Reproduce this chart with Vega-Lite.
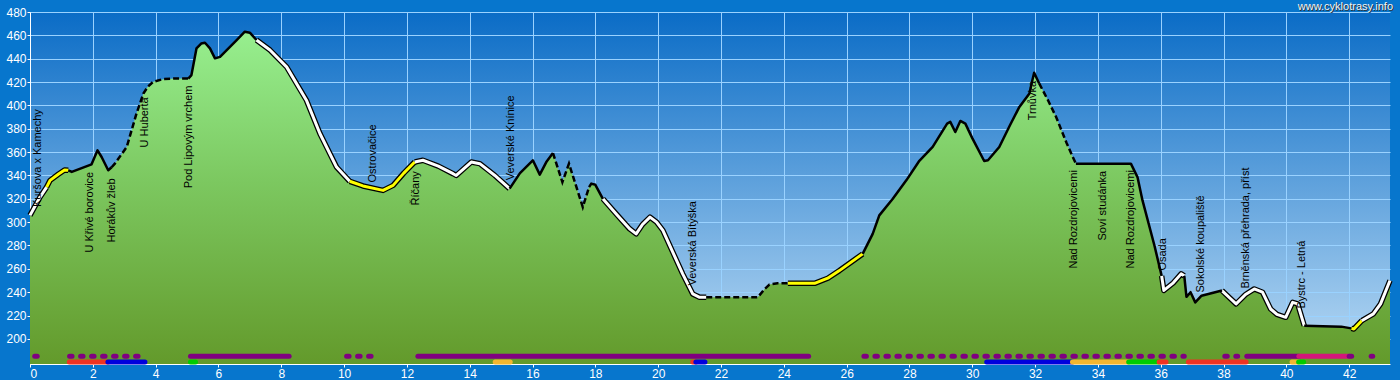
{
  "$schema": "https://vega.github.io/schema/vega-lite/v6.json",
  "width": 1360,
  "height": 352,
  "autosize": {"type": "none"},
  "padding": {"left": 30, "top": 12, "right": 10, "bottom": 16},
  "background": "#0776cd",
  "config": {
    "view": {"stroke": null, "fill": {"gradient": "linear", "x1": 0, "y1": 0, "x2": 0, "y2": 1, "stops": [{"offset": 0, "color": "#0a6cc6"}, {"offset": 1, "color": "#b9daf4"}]}},
    "axis": {"domainColor": "#ffffff", "domainWidth": 1, "tickColor": "#ffffff", "tickSize": 3, "labelColor": "#ffffff", "labelFont": "Liberation Sans", "labelFontSize": 12, "gridColor": "#9ad2ff", "gridWidth": 1, "gridOpacity": 1, "labelOverlap": false, "labelPadding": 1, "grid": true, "title": null},
    "text": {"font": "Liberation Sans"}
  },
  "datasets": {
    "profile": [
      {"km": 0, "ele": 305.8, "seg": "S1", "s": "white"},
      {"km": 0.32, "ele": 321.5, "seg": "S1", "s": "white"},
      {"km": 0.53, "ele": 330, "seg": "S1", "s": "white"},
      {"km": 0.53, "ele": 330, "seg": "S2", "s": "yellow"},
      {"km": 0.64, "ele": 335.8, "seg": "S2", "s": "yellow"},
      {"km": 0.9, "ele": 341, "seg": "S2", "s": "yellow"},
      {"km": 1.1, "ele": 344.6, "seg": "S2", "s": "yellow"},
      {"km": 1.22, "ele": 344.4, "seg": "S2", "s": "yellow"},
      {"km": 1.22, "ele": 344.4, "seg": "S3", "s": "black"},
      {"km": 1.33, "ele": 343, "seg": "S3", "s": "black"},
      {"km": 1.96, "ele": 349.5, "seg": "S3", "s": "black"},
      {"km": 2.15, "ele": 361.5, "seg": "S3", "s": "black"},
      {"km": 2.28, "ele": 355.8, "seg": "S3", "s": "black"},
      {"km": 2.49, "ele": 344.4, "seg": "S3", "s": "black"},
      {"km": 2.6, "ele": 347, "seg": "S3", "s": "black"},
      {"km": 2.6, "ele": 347, "seg": "S4", "s": "dashed"},
      {"km": 2.7, "ele": 350.1, "seg": "S4", "s": "dashed"},
      {"km": 3.08, "ele": 364.4, "seg": "S4", "s": "dashed"},
      {"km": 3.39, "ele": 393, "seg": "S4", "s": "dashed"},
      {"km": 3.61, "ele": 410.2, "seg": "S4", "s": "dashed"},
      {"km": 3.75, "ele": 416, "seg": "S4", "s": "dashed"},
      {"km": 3.92, "ele": 420.2, "seg": "S4", "s": "dashed"},
      {"km": 4.24, "ele": 422.5, "seg": "S4", "s": "dashed"},
      {"km": 4.6, "ele": 423, "seg": "S4", "s": "dashed"},
      {"km": 5.04, "ele": 423, "seg": "S4", "s": "dashed"},
      {"km": 5.04, "ele": 423, "seg": "S5", "s": "black"},
      {"km": 5.14, "ele": 426, "seg": "S5", "s": "black"},
      {"km": 5.3, "ele": 448.8, "seg": "S5", "s": "black"},
      {"km": 5.45, "ele": 453, "seg": "S5", "s": "black"},
      {"km": 5.57, "ele": 453.7, "seg": "S5", "s": "black"},
      {"km": 5.73, "ele": 448.8, "seg": "S5", "s": "black"},
      {"km": 5.89, "ele": 440.3, "seg": "S5", "s": "black"},
      {"km": 6.05, "ele": 441.6, "seg": "S5", "s": "black"},
      {"km": 6.58, "ele": 456, "seg": "S5", "s": "black"},
      {"km": 6.84, "ele": 463.1, "seg": "S5", "s": "black"},
      {"km": 7.0, "ele": 462.3, "seg": "S5", "s": "black"},
      {"km": 7.21, "ele": 456, "seg": "S5", "s": "black"},
      {"km": 7.21, "ele": 456, "seg": "S6", "s": "white"},
      {"km": 7.64, "ele": 447.4, "seg": "S6", "s": "white"},
      {"km": 8.17, "ele": 433, "seg": "S6", "s": "white"},
      {"km": 8.8, "ele": 404.5, "seg": "S6", "s": "white"},
      {"km": 9.23, "ele": 375.9, "seg": "S6", "s": "white"},
      {"km": 9.76, "ele": 347.2, "seg": "S6", "s": "white"},
      {"km": 10.18, "ele": 335, "seg": "S6", "s": "white"},
      {"km": 10.18, "ele": 335, "seg": "S7", "s": "yellow"},
      {"km": 10.6, "ele": 331, "seg": "S7", "s": "yellow"},
      {"km": 11.24, "ele": 327.2, "seg": "S7", "s": "yellow"},
      {"km": 11.56, "ele": 331.5, "seg": "S7", "s": "yellow"},
      {"km": 11.9, "ele": 342, "seg": "S7", "s": "yellow"},
      {"km": 12.25, "ele": 351.5, "seg": "S7", "s": "yellow"},
      {"km": 12.25, "ele": 351.5, "seg": "S8", "s": "white"},
      {"km": 12.51, "ele": 353, "seg": "S8", "s": "white"},
      {"km": 13.0, "ele": 348, "seg": "S8", "s": "white"},
      {"km": 13.47, "ele": 341.5, "seg": "S8", "s": "white"},
      {"km": 13.57, "ele": 340, "seg": "S8", "s": "white"},
      {"km": 14.05, "ele": 351.5, "seg": "S8", "s": "white"},
      {"km": 14.32, "ele": 350.1, "seg": "S8", "s": "white"},
      {"km": 14.8, "ele": 340, "seg": "S8", "s": "white"},
      {"km": 15.27, "ele": 328.7, "seg": "S8", "s": "white"},
      {"km": 15.27, "ele": 328.7, "seg": "S9", "s": "black"},
      {"km": 15.6, "ele": 342, "seg": "S9", "s": "black"},
      {"km": 16.01, "ele": 353, "seg": "S9", "s": "black"},
      {"km": 16.23, "ele": 340.7, "seg": "S9", "s": "black"},
      {"km": 16.45, "ele": 352, "seg": "S9", "s": "black"},
      {"km": 16.65, "ele": 359.2, "seg": "S9", "s": "black"},
      {"km": 16.65, "ele": 359.2, "seg": "S10", "s": "dashed"},
      {"km": 16.95, "ele": 334.3, "seg": "S10", "s": "dashed"},
      {"km": 17.16, "ele": 350.1, "seg": "S10", "s": "dashed"},
      {"km": 17.6, "ele": 312.9, "seg": "S10", "s": "dashed"},
      {"km": 17.8, "ele": 330, "seg": "S10", "s": "dashed"},
      {"km": 17.8, "ele": 330, "seg": "S11", "s": "black"},
      {"km": 17.87, "ele": 333, "seg": "S11", "s": "black"},
      {"km": 18.0, "ele": 332, "seg": "S11", "s": "black"},
      {"km": 18.24, "ele": 320, "seg": "S11", "s": "black"},
      {"km": 18.24, "ele": 320, "seg": "S12", "s": "white"},
      {"km": 18.7, "ele": 306, "seg": "S12", "s": "white"},
      {"km": 19.09, "ele": 294.3, "seg": "S12", "s": "white"},
      {"km": 19.3, "ele": 290, "seg": "S12", "s": "white"},
      {"km": 19.5, "ele": 298, "seg": "S12", "s": "white"},
      {"km": 19.74, "ele": 304.3, "seg": "S12", "s": "white"},
      {"km": 19.95, "ele": 300, "seg": "S12", "s": "white"},
      {"km": 20.15, "ele": 292.9, "seg": "S12", "s": "white"},
      {"km": 20.78, "ele": 255.7, "seg": "S12", "s": "white"},
      {"km": 21.1, "ele": 238.5, "seg": "S12", "s": "white"},
      {"km": 21.32, "ele": 235.6, "seg": "S12", "s": "white"},
      {"km": 21.53, "ele": 235.6, "seg": "S12", "s": "white"},
      {"km": 21.53, "ele": 235.6, "seg": "S13", "s": "dashed"},
      {"km": 23.17, "ele": 235.6, "seg": "S13", "s": "dashed"},
      {"km": 23.4, "ele": 243, "seg": "S13", "s": "dashed"},
      {"km": 23.54, "ele": 246.5, "seg": "S13", "s": "dashed"},
      {"km": 23.8, "ele": 247.6, "seg": "S13", "s": "dashed"},
      {"km": 24.13, "ele": 247.6, "seg": "S13", "s": "dashed"},
      {"km": 24.13, "ele": 247.6, "seg": "S14", "s": "yellow"},
      {"km": 24.98, "ele": 247.6, "seg": "S14", "s": "yellow"},
      {"km": 25.4, "ele": 252, "seg": "S14", "s": "yellow"},
      {"km": 25.77, "ele": 258.5, "seg": "S14", "s": "yellow"},
      {"km": 26.51, "ele": 272.8, "seg": "S14", "s": "yellow"},
      {"km": 26.51, "ele": 272.8, "seg": "S15", "s": "black"},
      {"km": 26.83, "ele": 290, "seg": "S15", "s": "black"},
      {"km": 27.04, "ele": 305.8, "seg": "S15", "s": "black"},
      {"km": 27.47, "ele": 320, "seg": "S15", "s": "black"},
      {"km": 27.9, "ele": 335.8, "seg": "S15", "s": "black"},
      {"km": 28.3, "ele": 352, "seg": "S15", "s": "black"},
      {"km": 28.74, "ele": 364.4, "seg": "S15", "s": "black"},
      {"km": 29.2, "ele": 384.4, "seg": "S15", "s": "black"},
      {"km": 29.3, "ele": 385.9, "seg": "S15", "s": "black"},
      {"km": 29.46, "ele": 377.2, "seg": "S15", "s": "black"},
      {"km": 29.62, "ele": 386.7, "seg": "S15", "s": "black"},
      {"km": 29.78, "ele": 384.4, "seg": "S15", "s": "black"},
      {"km": 30.0, "ele": 372, "seg": "S15", "s": "black"},
      {"km": 30.38, "ele": 352.4, "seg": "S15", "s": "black"},
      {"km": 30.5, "ele": 353, "seg": "S15", "s": "black"},
      {"km": 30.86, "ele": 364.4, "seg": "S15", "s": "black"},
      {"km": 31.2, "ele": 383, "seg": "S15", "s": "black"},
      {"km": 31.5, "ele": 398.7, "seg": "S15", "s": "black"},
      {"km": 31.82, "ele": 410.2, "seg": "S15", "s": "black"},
      {"km": 31.9, "ele": 420, "seg": "S15", "s": "black"},
      {"km": 31.97, "ele": 427.9, "seg": "S15", "s": "black"},
      {"km": 32.13, "ele": 418.8, "seg": "S15", "s": "black"},
      {"km": 32.13, "ele": 418.8, "seg": "S16", "s": "dashed"},
      {"km": 32.4, "ele": 405, "seg": "S16", "s": "dashed"},
      {"km": 32.67, "ele": 390.1, "seg": "S16", "s": "dashed"},
      {"km": 33.0, "ele": 368, "seg": "S16", "s": "dashed"},
      {"km": 33.2, "ele": 355.8, "seg": "S16", "s": "dashed"},
      {"km": 33.3, "ele": 350.1, "seg": "S16", "s": "dashed"},
      {"km": 33.3, "ele": 350.1, "seg": "S17", "s": "black"},
      {"km": 35.05, "ele": 350.1, "seg": "S17", "s": "black"},
      {"km": 35.26, "ele": 338.6, "seg": "S17", "s": "black"},
      {"km": 35.42, "ele": 318.6, "seg": "S17", "s": "black"},
      {"km": 35.8, "ele": 280, "seg": "S17", "s": "black"},
      {"km": 36.03, "ele": 254, "seg": "S17", "s": "black"},
      {"km": 36.03, "ele": 254, "seg": "S18", "s": "white"},
      {"km": 36.1, "ele": 241.5, "seg": "S18", "s": "white"},
      {"km": 36.4, "ele": 248, "seg": "S18", "s": "white"},
      {"km": 36.65, "ele": 255.7, "seg": "S18", "s": "white"},
      {"km": 36.75, "ele": 254, "seg": "S18", "s": "white"},
      {"km": 36.75, "ele": 254, "seg": "S19", "s": "black"},
      {"km": 36.82, "ele": 236, "seg": "S19", "s": "black"},
      {"km": 36.95, "ele": 240, "seg": "S19", "s": "black"},
      {"km": 37.1, "ele": 231.3, "seg": "S19", "s": "black"},
      {"km": 37.3, "ele": 237, "seg": "S19", "s": "black"},
      {"km": 37.95, "ele": 241.4, "seg": "S19", "s": "black"},
      {"km": 37.95, "ele": 241.4, "seg": "S20", "s": "white"},
      {"km": 38.2, "ele": 235, "seg": "S20", "s": "white"},
      {"km": 38.4, "ele": 230, "seg": "S20", "s": "white"},
      {"km": 38.7, "ele": 238, "seg": "S20", "s": "white"},
      {"km": 38.98, "ele": 242.8, "seg": "S20", "s": "white"},
      {"km": 39.24, "ele": 240, "seg": "S20", "s": "white"},
      {"km": 39.5, "ele": 225.6, "seg": "S20", "s": "white"},
      {"km": 39.7, "ele": 221, "seg": "S20", "s": "white"},
      {"km": 39.98, "ele": 218.5, "seg": "S20", "s": "white"},
      {"km": 40.2, "ele": 231.3, "seg": "S20", "s": "white"},
      {"km": 40.36, "ele": 230, "seg": "S20", "s": "white"},
      {"km": 40.57, "ele": 211.3, "seg": "S20", "s": "white"},
      {"km": 40.57, "ele": 211.3, "seg": "S21", "s": "black"},
      {"km": 41.75, "ele": 210.5, "seg": "S21", "s": "black"},
      {"km": 42.07, "ele": 209, "seg": "S21", "s": "black"},
      {"km": 42.07, "ele": 209, "seg": "S22", "s": "yellow"},
      {"km": 42.15, "ele": 208.5, "seg": "S22", "s": "yellow"},
      {"km": 42.4, "ele": 215.6, "seg": "S22", "s": "yellow"},
      {"km": 42.4, "ele": 215.6, "seg": "S23", "s": "white"},
      {"km": 42.77, "ele": 221.4, "seg": "S23", "s": "white"},
      {"km": 43.0, "ele": 230, "seg": "S23", "s": "white"},
      {"km": 43.3, "ele": 250, "seg": "S23", "s": "white"}
    ],
    "labels": [
      {"km": 0.25, "ele": 313, "label": "Kuršova x Kamechy"},
      {"km": 1.91, "ele": 274, "label": "U Křivé borovice"},
      {"km": 2.6, "ele": 282.6, "label": "Horákův žleb"},
      {"km": 3.66, "ele": 364, "label": "U Huberta"},
      {"km": 5.07, "ele": 329, "label": "Pod Lipovým vrchem"},
      {"km": 10.91, "ele": 334, "label": "Ostrovačice"},
      {"km": 12.3, "ele": 314.3, "label": "Říčany"},
      {"km": 15.3, "ele": 335.8, "label": "Veverské Knínice"},
      {"km": 21.1, "ele": 245.7, "label": "Veverská Bítýška"},
      {"km": 31.94, "ele": 387.3, "label": "Trnůvka"},
      {"km": 33.25, "ele": 260.3, "label": "Nad Rozdrojovicemi"},
      {"km": 34.15, "ele": 284.3, "label": "Soví studánka"},
      {"km": 35.05, "ele": 260.3, "label": "Nad Rozdrojovicemi"},
      {"km": 36.08, "ele": 258.5, "label": "Osada"},
      {"km": 37.28, "ele": 239.7, "label": "Sokolské koupaliště"},
      {"km": 38.73, "ele": 243.1, "label": "Brněnská přehrada, příst"},
      {"km": 40.5, "ele": 226, "label": "Bystrc - Letná"}
    ],
    "bars": [
      {"lane": "top", "from": 0.15, "to": 0.5, "kind": "purple", "pat": "dotted"},
      {"lane": "top", "from": 1.26, "to": 3.5, "kind": "purple", "pat": "dotted"},
      {"lane": "top", "from": 5.11, "to": 8.25, "kind": "purple", "pat": "solid"},
      {"lane": "top", "from": 10.08, "to": 10.95, "kind": "purple", "pat": "dotted"},
      {"lane": "top", "from": 12.35, "to": 24.79, "kind": "purple", "pat": "solid"},
      {"lane": "top", "from": 26.55, "to": 36.75, "kind": "purple", "pat": "dotted"},
      {"lane": "top", "from": 38.04, "to": 38.45, "kind": "purple", "pat": "dotted"},
      {"lane": "top", "from": 38.74, "to": 40.4, "kind": "purple", "pat": "solid"},
      {"lane": "top", "from": 40.4, "to": 42.0, "kind": "magenta", "pat": "solid"},
      {"lane": "top", "from": 42.0, "to": 42.08, "kind": "purple", "pat": "solid"},
      {"lane": "top", "from": 42.7, "to": 42.75, "kind": "purple", "pat": "solid"},
      {"lane": "bottom", "from": 1.25, "to": 2.48, "kind": "red", "pat": "solid"},
      {"lane": "bottom", "from": 2.48, "to": 3.66, "kind": "blue", "pat": "solid"},
      {"lane": "bottom", "from": 5.11, "to": 5.27, "kind": "green", "pat": "solid"},
      {"lane": "bottom", "from": 14.81, "to": 15.29, "kind": "orange", "pat": "solid"},
      {"lane": "bottom", "from": 21.1, "to": 21.2, "kind": "red", "pat": "solid"},
      {"lane": "bottom", "from": 21.2, "to": 21.49, "kind": "blue", "pat": "solid"},
      {"lane": "bottom", "from": 30.46, "to": 33.19, "kind": "blue", "pat": "solid"},
      {"lane": "bottom", "from": 33.19, "to": 34.98, "kind": "orange", "pat": "solid"},
      {"lane": "bottom", "from": 34.98, "to": 35.95, "kind": "green", "pat": "solid"},
      {"lane": "bottom", "from": 35.95, "to": 36.17, "kind": "red", "pat": "solid"},
      {"lane": "bottom", "from": 36.88, "to": 38.72, "kind": "red", "pat": "solid"},
      {"lane": "bottom", "from": 40.18, "to": 40.39, "kind": "orange", "pat": "solid"},
      {"lane": "bottom", "from": 40.39, "to": 40.55, "kind": "green", "pat": "solid"}
    ]
  },
  "layer": [
    {
      "data": {"name": "profile"},
      "mark": {"type": "area", "fill": {"gradient": "linear", "x1": 0, "y1": 0, "x2": 0, "y2": 1, "stops": [{"offset": 0, "color": "#97ef8f"}, {"offset": 0.45, "color": "#7cc860"}, {"offset": 1, "color": "#639a2b"}]}},
      "encoding": {
        "x": {"field": "km", "type": "quantitative", "scale": {"domain": [0, 43.3], "nice": false, "zero": false}, "axis": {"values": [0, 2, 4, 6, 8, 10, 12, 14, 16, 18, 20, 22, 24, 26, 28, 30, 32, 34, 36, 38, 40, 42]}},
        "y": {"field": "ele", "type": "quantitative", "scale": {"domain": [178.5, 480], "nice": false, "zero": false}, "axis": {"values": [200, 220, 240, 260, 280, 300, 320, 340, 360, 380, 400, 420, 440, 460, 480]}},
        "y2": {"datum": 178.5}
      }
    },
    {
      "data": {"name": "profile"},
      "transform": [{"filter": "datum.s == 'white' || datum.s == 'yellow'"}],
      "mark": {"type": "line", "stroke": "#000000", "strokeWidth": 5.5, "strokeJoin": "round", "strokeCap": "butt"},
      "encoding": {"x": {"field": "km", "type": "quantitative", "axis": {"values": [0, 2, 4, 6, 8, 10, 12, 14, 16, 18, 20, 22, 24, 26, 28, 30, 32, 34, 36, 38, 40, 42]}}, "y": {"field": "ele", "type": "quantitative", "axis": {"values": [200, 220, 240, 260, 280, 300, 320, 340, 360, 380, 400, 420, 440, 460, 480]}}, "detail": {"field": "seg"}}
    },
    {
      "data": {"name": "profile"},
      "transform": [{"filter": "datum.s == 'white' || datum.s == 'yellow'"}],
      "mark": {"type": "line", "strokeWidth": 3, "strokeJoin": "round", "strokeCap": "butt"},
      "encoding": {"x": {"field": "km", "type": "quantitative", "axis": {"values": [0, 2, 4, 6, 8, 10, 12, 14, 16, 18, 20, 22, 24, 26, 28, 30, 32, 34, 36, 38, 40, 42]}}, "y": {"field": "ele", "type": "quantitative", "axis": {"values": [200, 220, 240, 260, 280, 300, 320, 340, 360, 380, 400, 420, 440, 460, 480]}}, "detail": {"field": "seg"}, "stroke": {"field": "s", "type": "nominal", "scale": {"domain": ["white", "yellow"], "range": ["#ffffff", "#ffff00"]}, "legend": null}}
    },
    {
      "data": {"name": "profile"},
      "transform": [{"filter": "datum.s == 'black'"}],
      "mark": {"type": "line", "stroke": "#000000", "strokeWidth": 2.5, "strokeJoin": "round"},
      "encoding": {"x": {"field": "km", "type": "quantitative", "axis": {"values": [0, 2, 4, 6, 8, 10, 12, 14, 16, 18, 20, 22, 24, 26, 28, 30, 32, 34, 36, 38, 40, 42]}}, "y": {"field": "ele", "type": "quantitative", "axis": {"values": [200, 220, 240, 260, 280, 300, 320, 340, 360, 380, 400, 420, 440, 460, 480]}}, "detail": {"field": "seg"}}
    },
    {
      "data": {"name": "profile"},
      "transform": [{"filter": "datum.s == 'dashed'"}],
      "mark": {"type": "line", "stroke": "#000000", "strokeWidth": 2.5, "strokeDash": [6, 3]},
      "encoding": {"x": {"field": "km", "type": "quantitative", "axis": {"values": [0, 2, 4, 6, 8, 10, 12, 14, 16, 18, 20, 22, 24, 26, 28, 30, 32, 34, 36, 38, 40, 42]}}, "y": {"field": "ele", "type": "quantitative", "axis": {"values": [200, 220, 240, 260, 280, 300, 320, 340, 360, 380, 400, 420, 440, 460, 480]}}, "detail": {"field": "seg"}}
    },
    {
      "data": {"name": "labels"},
      "mark": {"type": "text", "angle": 270, "align": "left", "baseline": "middle", "fontSize": 11, "font": "Liberation Sans", "color": "#000000"},
      "encoding": {"x": {"field": "km", "type": "quantitative", "axis": {"values": [0, 2, 4, 6, 8, 10, 12, 14, 16, 18, 20, 22, 24, 26, 28, 30, 32, 34, 36, 38, 40, 42]}}, "y": {"field": "ele", "type": "quantitative", "axis": {"values": [200, 220, 240, 260, 280, 300, 320, 340, 360, 380, 400, 420, 440, 460, 480]}}, "text": {"field": "label"}}
    },
    {
      "data": {"name": "bars"},
      "transform": [{"filter": "datum.pat == 'dotted'"}],
      "mark": {"type": "rule", "strokeWidth": 5, "strokeCap": "round", "strokeDash": [2.5, 8.5]},
      "encoding": {"x": {"field": "from", "type": "quantitative", "axis": {"values": [0, 2, 4, 6, 8, 10, 12, 14, 16, 18, 20, 22, 24, 26, 28, 30, 32, 34, 36, 38, 40, 42]}}, "x2": {"field": "to"}, "y": {"datum": 185.2, "type": "quantitative", "axis": {"values": [200, 220, 240, 260, 280, 300, 320, 340, 360, 380, 400, 420, 440, 460, 480]}}, "color": {"field": "kind", "type": "nominal", "scale": {"domain": ["purple", "magenta", "red", "blue", "green", "orange"], "range": ["#800080", "#d4157a", "#ee3322", "#0000dd", "#00cc00", "#f2b630"]}, "legend": null}}
    },
    {
      "data": {"name": "bars"},
      "transform": [{"filter": "datum.pat == 'solid' && datum.lane == 'top'"}],
      "mark": {"type": "rule", "strokeWidth": 5, "strokeCap": "round"},
      "encoding": {"x": {"field": "from", "type": "quantitative", "axis": {"values": [0, 2, 4, 6, 8, 10, 12, 14, 16, 18, 20, 22, 24, 26, 28, 30, 32, 34, 36, 38, 40, 42]}}, "x2": {"field": "to"}, "y": {"datum": 185.2, "type": "quantitative", "axis": {"values": [200, 220, 240, 260, 280, 300, 320, 340, 360, 380, 400, 420, 440, 460, 480]}}, "color": {"field": "kind", "type": "nominal", "legend": null}}
    },
    {
      "data": {"name": "bars"},
      "transform": [{"filter": "datum.lane == 'bottom'"}],
      "mark": {"type": "rule", "strokeWidth": 5, "strokeCap": "round"},
      "encoding": {"x": {"field": "from", "type": "quantitative", "axis": {"values": [0, 2, 4, 6, 8, 10, 12, 14, 16, 18, 20, 22, 24, 26, 28, 30, 32, 34, 36, 38, 40, 42]}}, "x2": {"field": "to"}, "y": {"datum": 180.3, "type": "quantitative", "axis": {"values": [200, 220, 240, 260, 280, 300, 320, 340, 360, 380, 400, 420, 440, 460, 480]}}, "color": {"field": "kind", "type": "nominal", "legend": null}}
    },
    {
      "data": {"values": [{"t": "www.cyklotrasy.info"}]},
      "mark": {"type": "text", "align": "right", "baseline": "alphabetic", "fontSize": 11, "font": "Liberation Sans", "color": "#303030", "dx": 4, "dy": -1},
      "encoding": {"x": {"datum": 43.3, "type": "quantitative", "axis": {"values": [0, 2, 4, 6, 8, 10, 12, 14, 16, 18, 20, 22, 24, 26, 28, 30, 32, 34, 36, 38, 40, 42]}}, "y": {"datum": 480, "type": "quantitative", "axis": {"values": [200, 220, 240, 260, 280, 300, 320, 340, 360, 380, 400, 420, 440, 460, 480]}}, "text": {"field": "t"}}
    },
    {
      "data": {"values": [{"t": "www.cyklotrasy.info"}]},
      "mark": {"type": "text", "align": "right", "baseline": "alphabetic", "fontSize": 11, "font": "Liberation Sans", "color": "#f4f4f4", "dx": 3, "dy": -2},
      "encoding": {"x": {"datum": 43.3, "type": "quantitative", "axis": {"values": [0, 2, 4, 6, 8, 10, 12, 14, 16, 18, 20, 22, 24, 26, 28, 30, 32, 34, 36, 38, 40, 42]}}, "y": {"datum": 480, "type": "quantitative", "axis": {"values": [200, 220, 240, 260, 280, 300, 320, 340, 360, 380, 400, 420, 440, 460, 480]}}, "text": {"field": "t"}}
    }
  ]
}
